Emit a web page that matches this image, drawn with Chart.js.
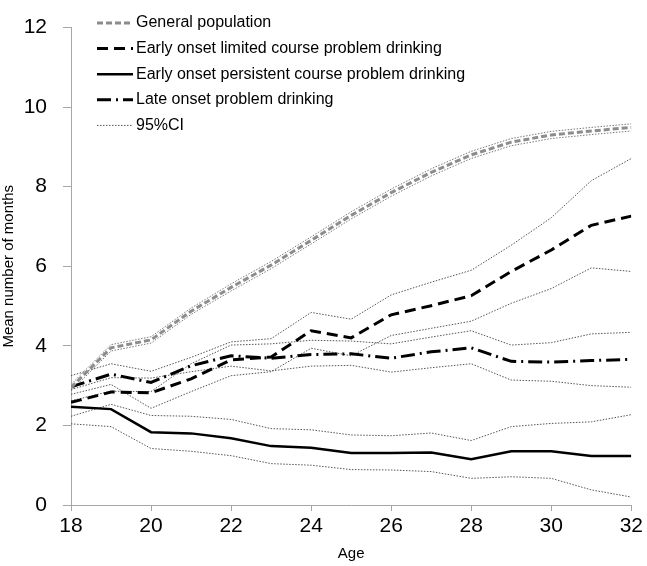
<!DOCTYPE html>
<html>
<head>
<meta charset="utf-8">
<title>Mean number of months by age</title>
<script src="https://cdn.jsdelivr.net/npm/chart.js@4.4.1/dist/chart.umd.min.js"></script>
<style>
  html, body { margin: 0; padding: 0; background: #fff; }
</style>
</head>
<body>
<canvas id="drinkingChart" width="647" height="566"></canvas>
<script>
// ages on the x axis
const ages = [18, 19, 20, 21, 22, 23, 24, 25, 26, 27, 28, 29, 30, 31, 32];

// general population
const genMean  = [2.95, 3.95, 4.15, 4.87, 5.47, 6.03, 6.65, 7.28, 7.85, 8.36, 8.80, 9.12, 9.30, 9.40, 9.49];
const genUpper = [3.03, 4.03, 4.23, 4.95, 5.56, 6.12, 6.74, 7.37, 7.94, 8.45, 8.89, 9.21, 9.39, 9.49, 9.58];
const genLower = [2.87, 3.87, 4.07, 4.79, 5.38, 5.94, 6.56, 7.19, 7.76, 8.27, 8.71, 9.03, 9.21, 9.31, 9.40];

// early onset limited course
const limitedMean  = [2.58, 2.84, 2.82, 3.17, 3.65, 3.72, 4.38, 4.20, 4.78, 5.01, 5.26, 5.87, 6.41, 7.03, 7.26];
const limitedUpper = [3.25, 3.55, 3.36, 3.71, 4.10, 4.18, 4.84, 4.67, 5.28, 5.60, 5.90, 6.53, 7.22, 8.15, 8.71];
const limitedLower = [2.78, 3.03, 2.43, 2.85, 3.25, 3.35, 3.94, 3.75, 4.26, 4.44, 4.62, 5.07, 5.44, 5.96, 5.87];

// early onset persistent course
const persistentMean  = [2.47, 2.41, 1.83, 1.80, 1.68, 1.48, 1.44, 1.31, 1.31, 1.32, 1.15, 1.35, 1.35, 1.23, 1.23];
const persistentUpper = [2.23, 2.53, 2.25, 2.23, 2.15, 1.92, 1.89, 1.76, 1.74, 1.81, 1.62, 1.97, 2.05, 2.09, 2.27];
const persistentLower = [2.04, 1.97, 1.42, 1.35, 1.24, 1.04, 1.00, 0.89, 0.88, 0.84, 0.67, 0.71, 0.67, 0.38, 0.20];

// late onset
const lateMean  = [2.97, 3.29, 3.08, 3.50, 3.75, 3.69, 3.78, 3.80, 3.69, 3.85, 3.95, 3.61, 3.59, 3.63, 3.66];
const lateUpper = [2.62, 2.86, 2.85, 3.55, 4.02, 4.05, 4.14, 4.12, 4.05, 4.22, 4.38, 4.02, 4.08, 4.30, 4.34];
const lateLower = [2.90, 3.20, 3.19, 3.35, 3.49, 3.37, 3.49, 3.51, 3.34, 3.45, 3.55, 3.14, 3.11, 3.00, 2.96];

const yTicks = [0, 2, 4, 6, 8, 10, 12];
const xTicks = [18, 20, 22, 24, 26, 28, 30, 32];

const FONT = '"Liberation Sans", Arial, sans-serif';
const AXIS_GREY = '#a6a6a6';

function points(values) {
  return ages.map((a, i) => ({ x: a, y: values[i] }));
}

function meanLine(label, values, color, width, dash) {
  return {
    label: label, data: points(values), order: 0,
    borderColor: color, borderWidth: width, borderDash: dash,
    pointRadius: 0, tension: 0, fill: false
  };
}

function ciLine(values, color) {
  return {
    label: '95%CI', data: points(values), order: 1,
    borderColor: color, borderWidth: 1, borderDash: [1.5, 1.5],
    pointRadius: 0, tension: 0, fill: false
  };
}

// legend sits inside the plot, top left, like the original
const insideLegend = {
  id: 'insideLegend',
  afterDraw(chart) {
    const ctx = chart.ctx;
    const seen = [];
    let y = 23;
    ctx.save();
    ctx.font = '16px ' + FONT;
    ctx.textBaseline = 'middle';
    chart.data.datasets.forEach(function (ds) {
      if (seen.indexOf(ds.label) !== -1) return;
      seen.push(ds.label);
      ctx.beginPath();
      ctx.setLineDash(ds.borderDash || []);
      ctx.lineWidth = ds.borderWidth;
      ctx.strokeStyle = ds.borderColor;
      ctx.moveTo(97, y);
      ctx.lineTo(133, y);
      ctx.stroke();
      ctx.setLineDash([]);
      ctx.fillStyle = '#000';
      ctx.fillText(ds.label, 136, y);
      y += 25.6;
    });
    ctx.restore();
  }
};

const ctx = document.getElementById('drinkingChart').getContext('2d');

Chart.defaults.font.family = FONT;
Chart.defaults.color = '#000';

const chart = new Chart(ctx, {
  type: 'line',
  data: {
    datasets: [
      meanLine('General population', genMean, '#8c8c8c', 3, [6, 3]),
      meanLine('Early onset limited course problem drinking', limitedMean, '#000', 3, [11, 6]),
      meanLine('Early onset persistent course problem drinking', persistentMean, '#000', 2.5, []),
      meanLine('Late onset problem drinking', lateMean, '#000', 3, [14, 5, 2, 5]),
      ciLine(limitedUpper, '#555'),
      ciLine(limitedLower, '#555'),
      ciLine(persistentUpper, '#555'),
      ciLine(persistentLower, '#555'),
      ciLine(lateUpper, '#555'),
      ciLine(lateLower, '#555'),
      ciLine(genUpper, '#7a7a7a'),
      ciLine(genLower, '#7a7a7a')
    ]
  },
  options: {
    responsive: false,
    animation: false,
    layout: { padding: { top: 12, right: 15, left: 0, bottom: 0 } },
    plugins: {
      legend: { display: false },
      tooltip: { enabled: false }
    },
    scales: {
      x: {
        type: 'linear',
        min: 18, max: 32,
        afterBuildTicks: function (scale) { scale.ticks = xTicks.map(v => ({ value: v })); },
        ticks: { font: { size: 21, lineHeight: 1.1 }, padding: 4, color: '#000' },
        grid: { drawOnChartArea: false, drawTicks: true, tickLength: 6, color: AXIS_GREY },
        border: { color: AXIS_GREY, width: 1 },
        title: { display: true, text: 'Age', font: { size: 15 }, color: '#000', padding: { top: 0, bottom: 3 } },
        afterFit: function (scale) { scale.height = 61; }
      },
      y: {
        min: 0, max: 12,
        afterBuildTicks: function (scale) { scale.ticks = yTicks.map(v => ({ value: v })); },
        ticks: { font: { size: 21, lineHeight: 1.1 }, padding: 16, color: '#000' },
        grid: { drawOnChartArea: false, drawTicks: true, tickLength: 8, color: AXIS_GREY },
        border: { color: AXIS_GREY, width: 1 },
        title: { display: true, text: 'Mean number of months', font: { size: 15 }, color: '#000', padding: { top: 0, bottom: 0 } },
        afterFit: function (scale) { scale.width = 71; }
      }
    }
  },
  plugins: [insideLegend]
});
</script>
</body>
</html>
